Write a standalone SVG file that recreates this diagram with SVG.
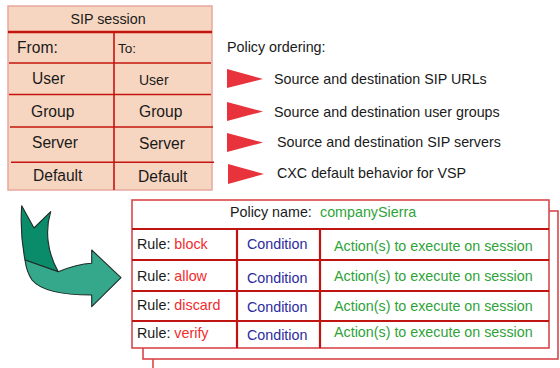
<svg xmlns="http://www.w3.org/2000/svg" width="560" height="368" viewBox="0 0 560 368">
  <style>
    text { font-family: "Liberation Sans", Arial, sans-serif; fill: #1a1a1a; }
    .t14 { font-size: 14.3px; }
    .t15 { font-size: 15.6px; }
    .outer-peach { fill: #f7d6c1; stroke: #e9a79e; stroke-width: 1.5; }
    .div { stroke: #c4140e; stroke-width: 1.6; fill: none; }
    .div-thick { stroke: #c4140e; stroke-width: 2.4; fill: none; }
    .outer-red { fill: #ffffff; stroke: #d8474a; stroke-width: 1.6; }
    .grid { stroke: #bf1410; stroke-width: 2.2; fill: none; }
    .flag { fill: #e8323c; }
    .red { fill: #f02c2c; }
    .blue { fill: #2b2b9e; }
    .green { fill: #2ea339; }
    .arrow { stroke: #1f2b27; stroke-width: 1.1; stroke-linejoin: round; }
  </style>

  <!-- SIP session table -->
  <g id="sip-session">
    <rect class="outer-peach" x="8" y="6" width="204" height="184"/>
    <line class="div-thick" x1="8" y1="32" x2="212" y2="32"/>
    <line class="div" x1="114" y1="32" x2="114" y2="190"/>
    <line class="div" x1="9" y1="63" x2="211" y2="63"/>
    <line class="div" x1="9" y1="94.5" x2="211" y2="94.5"/>
    <line class="div" x1="10" y1="127" x2="213" y2="127"/>
    <line class="div" x1="11" y1="162.3" x2="214" y2="162.3"/>
    <text class="t14" x="108" y="24" text-anchor="middle">SIP session</text>
    <text class="t15" x="17" y="53">From:</text>
    <text x="118" y="53" font-size="13.5">To:</text>
    <text class="t15" x="32" y="84">User</text>
    <text x="139" y="85" font-size="14">User</text>
    <text class="t15" x="31" y="117">Group</text>
    <text class="t15" x="139" y="117">Group</text>
    <text class="t15" x="32" y="148">Server</text>
    <text class="t15" x="139" y="149">Server</text>
    <text class="t15" x="33" y="181">Default</text>
    <text class="t15" x="138" y="182">Default</text>
  </g>

  <!-- Policy ordering list -->
  <g id="policy-ordering">
    <text class="t14" x="227" y="52">Policy ordering:</text>
    <polygon class="flag" points="227,69 263,79 227,88"/>
    <text class="t14" x="274" y="84">Source and destination SIP URLs</text>
    <polygon class="flag" points="227,102 263,111.5 227,121"/>
    <text class="t14" x="274" y="117">Source and destination user groups</text>
    <polygon class="flag" points="227,133 263,142.5 227,152"/>
    <text class="t14" x="277" y="147">Source and destination SIP servers</text>
    <polygon class="flag" points="228,164 264,174 228,184"/>
    <text class="t14" x="277" y="178">CXC default behavior for VSP</text>
  </g>

  <!-- curved arrow -->
  <g id="flow-arrow">
    <path class="arrow" fill="#0a8c6b" d="M21.7,205.7 L34,228 L50.7,211.7 C45,230 47,252 58.3,271.7 L25,260 C21.5,242 20.5,222 21.7,205.7 Z"/>
    <path class="arrow" fill="#35a88b" d="M25,260 L58.3,271.7 C70,267 80,264 91.7,263.3 L91.7,250 L121,277.7 L91.7,306.7 L91.7,295 C66,295 42,292 32,280 C28,274 26,268 25,260 Z"/>
  </g>

  <!-- Policy tables stacked -->
  <g id="policy-back-2">
    <path class="outer-red" d="M153,368 L153,359"/>
  </g>
  <g id="policy-back-1">
    <rect class="outer-red" x="143" y="211" width="415" height="148"/>
  </g>
  <g id="policy-companySierra">
    <rect class="outer-red" x="132" y="200" width="417" height="148"/>
    <line class="grid" x1="132" y1="229" x2="549" y2="229"/>
    <line class="grid" x1="132" y1="260" x2="549" y2="260"/>
    <line class="grid" x1="132" y1="291" x2="549" y2="291"/>
    <line class="grid" x1="132" y1="321" x2="549" y2="321"/>
    <line class="grid" x1="237" y1="229" x2="237" y2="348"/>
    <line class="grid" x1="320" y1="229" x2="320" y2="348"/>
    <text class="t14" x="230" y="217">Policy name:</text>
    <text class="t14 green" x="320" y="217">companySierra</text>

    <text class="t14" x="137" y="249">Rule: <tspan class="red">block</tspan></text>
    <text class="t14 blue" x="247" y="249">Condition</text>
    <text class="t14 green" x="334" y="251">Action(s) to execute on session</text>

    <text class="t14" x="137" y="281">Rule: <tspan class="red">allow</tspan></text>
    <text class="t14 blue" x="247" y="283">Condition</text>
    <text class="t14 green" x="334" y="281">Action(s) to execute on session</text>

    <text class="t14" x="137" y="310">Rule: <tspan class="red">discard</tspan></text>
    <text class="t14 blue" x="247" y="312">Condition</text>
    <text class="t14 green" x="334" y="311">Action(s) to execute on session</text>

    <text class="t14" x="137" y="338">Rule: <tspan class="red">verify</tspan></text>
    <text class="t14 blue" x="247" y="340">Condition</text>
    <text class="t14 green" x="334" y="337">Action(s) to execute on session</text>
  </g>
</svg>
